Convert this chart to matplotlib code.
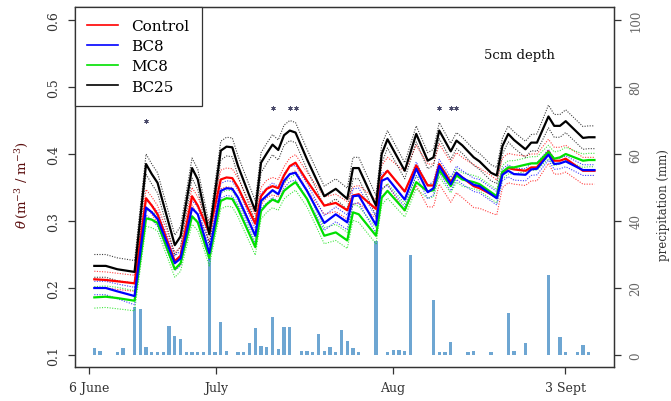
import matplotlib
matplotlib.use("Agg")
from matplotlib import pyplot as plt

# days since 6 June (measurement vertices)
days = [0, 2, 4, 7, 9, 10, 11, 14, 15, 17,
        18, 20, 22, 23, 24, 25, 28, 29, 30, 31,
        32, 33, 34, 35, 37, 40, 42, 44, 45, 46,
        49, 50, 51, 54, 56, 58, 59, 60, 62, 63,
        64, 66, 67, 69, 70, 71, 72, 73, 75, 76,
        77, 79, 80, 81, 82, 85, 86, 87]

control = [0.213, 0.212, 0.210, 0.207, 0.334, 0.323, 0.310, 0.240, 0.248, 0.337,
           0.323, 0.283, 0.362, 0.365, 0.364, 0.350, 0.296, 0.337, 0.348, 0.352,
           0.349, 0.368, 0.382, 0.387, 0.360, 0.323, 0.327, 0.316, 0.338, 0.340,
           0.318, 0.365, 0.375, 0.344, 0.383, 0.353, 0.353, 0.385, 0.358, 0.372,
           0.365, 0.352, 0.349, 0.340, 0.335, 0.372, 0.379, 0.377, 0.375, 0.380,
           0.380, 0.404, 0.390, 0.390, 0.393, 0.375, 0.375, 0.375]
bc8 = [0.200, 0.200, 0.195, 0.188, 0.320, 0.313, 0.303, 0.237, 0.244, 0.319,
       0.310, 0.252, 0.345, 0.349, 0.348, 0.335, 0.278, 0.330, 0.338, 0.346,
       0.340, 0.360, 0.370, 0.372, 0.345, 0.297, 0.310, 0.298, 0.337, 0.338,
       0.294, 0.360, 0.364, 0.332, 0.378, 0.343, 0.349, 0.382, 0.355, 0.372,
       0.365, 0.354, 0.352, 0.340, 0.334, 0.369, 0.375, 0.370, 0.369, 0.377,
       0.378, 0.399, 0.385, 0.386, 0.389, 0.376, 0.376, 0.376]
mc8 = [0.186, 0.187, 0.185, 0.181, 0.304, 0.302, 0.297, 0.228, 0.237, 0.307,
       0.298, 0.245, 0.330, 0.334, 0.333, 0.318, 0.261, 0.315, 0.325, 0.332,
       0.328, 0.345, 0.352, 0.358, 0.333, 0.278, 0.283, 0.271, 0.313, 0.310,
       0.278, 0.335, 0.345, 0.316, 0.358, 0.344, 0.346, 0.376, 0.352, 0.368,
       0.362, 0.358, 0.355, 0.343, 0.337, 0.373, 0.380, 0.380, 0.384, 0.386,
       0.386, 0.403, 0.393, 0.395, 0.400, 0.390, 0.391, 0.391]
bc25 = [0.233, 0.233, 0.228, 0.224, 0.385, 0.370, 0.357, 0.264, 0.277, 0.379,
        0.362, 0.280, 0.405, 0.411, 0.410, 0.382, 0.315, 0.387, 0.401, 0.414,
        0.406, 0.428, 0.435, 0.432, 0.392, 0.337, 0.348, 0.333, 0.379, 0.379,
        0.323, 0.400, 0.422, 0.375, 0.430, 0.390, 0.395, 0.435, 0.404, 0.420,
        0.413, 0.395, 0.389, 0.372, 0.368, 0.412, 0.430, 0.421, 0.407, 0.417,
        0.417, 0.456, 0.442, 0.442, 0.449, 0.424, 0.425, 0.425]

# half width of the dotted error band
control_se = [0.012, 0.012, 0.012, 0.012, 0.013, 0.013, 0.013, 0.013, 0.013, 0.013,
              0.013, 0.013, 0.014, 0.014, 0.014, 0.014, 0.013, 0.013, 0.013, 0.013,
              0.013, 0.013, 0.012, 0.012, 0.013, 0.013, 0.013, 0.013, 0.013, 0.013,
              0.014, 0.018, 0.020, 0.030, 0.030, 0.032, 0.032, 0.030, 0.030, 0.030,
              0.030, 0.032, 0.030, 0.028, 0.026, 0.022, 0.022, 0.022, 0.022, 0.020,
              0.020, 0.018, 0.020, 0.020, 0.020, 0.020, 0.020, 0.020]
bc8_se = [0.010, 0.010, 0.011, 0.013, 0.011, 0.011, 0.011, 0.011, 0.011, 0.011,
          0.011, 0.011, 0.011, 0.011, 0.011, 0.011, 0.011, 0.011, 0.011, 0.011,
          0.011, 0.011, 0.011, 0.011, 0.011, 0.011, 0.011, 0.011, 0.011, 0.011,
          0.012, 0.011, 0.011, 0.011, 0.010, 0.010, 0.010, 0.010, 0.010, 0.010,
          0.010, 0.010, 0.010, 0.010, 0.010, 0.009, 0.009, 0.009, 0.009, 0.009,
          0.009, 0.008, 0.008, 0.008, 0.008, 0.008, 0.008, 0.008]
mc8_se = [0.016, 0.016, 0.016, 0.015, 0.012, 0.012, 0.012, 0.012, 0.012, 0.012,
          0.012, 0.012, 0.012, 0.012, 0.012, 0.012, 0.012, 0.012, 0.012, 0.012,
          0.012, 0.012, 0.012, 0.012, 0.012, 0.012, 0.012, 0.012, 0.012, 0.012,
          0.012, 0.011, 0.011, 0.010, 0.010, 0.010, 0.010, 0.010, 0.010, 0.010,
          0.010, 0.010, 0.010, 0.010, 0.010, 0.010, 0.010, 0.010, 0.010, 0.010,
          0.010, 0.010, 0.010, 0.010, 0.010, 0.010, 0.010, 0.010]
bc25_se = [0.017, 0.017, 0.017, 0.017, 0.015, 0.015, 0.015, 0.015, 0.015, 0.015,
           0.015, 0.015, 0.014, 0.014, 0.014, 0.015, 0.015, 0.015, 0.015, 0.015,
           0.015, 0.015, 0.015, 0.015, 0.015, 0.015, 0.015, 0.016, 0.016, 0.016,
           0.015, 0.014, 0.013, 0.012, 0.012, 0.012, 0.012, 0.012, 0.012, 0.012,
           0.012, 0.012, 0.012, 0.012, 0.012, 0.012, 0.012, 0.012, 0.012, 0.012,
           0.013, 0.017, 0.017, 0.017, 0.017, 0.017, 0.017, 0.017]

# daily precipitation (mm)
rain_days = [0, 1, 4, 5, 7, 8, 9, 10, 11, 12, 13, 14, 15, 16, 17, 18, 19, 20, 21, 22,
             23, 25, 26, 27, 28, 29, 30, 31, 32, 33, 34, 36, 37, 38, 39, 40, 41, 42,
             43, 44, 45, 46, 49, 51, 52, 53, 54, 55, 59, 60, 61, 62, 65, 66, 69, 72,
             73, 75, 79, 81, 82, 84, 85, 86]
rain = [2.0, 1.2, 0.8, 2.0, 14.2, 13.6, 2.3, 0.8, 0.8, 1.0, 8.7, 5.7, 4.9, 1.0, 1.0, 0.8,
        1.0, 29.0, 1.0, 9.8, 1.3, 0.8, 1.0, 3.7, 8.0, 2.8, 2.4, 11.2, 1.7, 8.2, 8.2, 1.3,
        1.3, 0.8, 6.3, 1.3, 2.4, 0.8, 7.3, 4.3, 2.0, 0.8, 34.0, 0.8, 1.5, 1.5, 1.3, 29.8,
        16.4, 0.8, 0.8, 3.8, 0.8, 1.3, 0.8, 12.6, 1.3, 3.7, 24.0, 5.5, 0.8, 1.0, 3.0, 0.8]

star_days = [9, 31, 34, 35, 60, 62, 63]
star_theta = [0.450, 0.469, 0.469, 0.469, 0.469, 0.469, 0.469]

tick_days = [-0.9, 21.2, 51.9, 81.9]
tick_labels = ["6 June", "July", "Aug", "3 Sept"]

series = [("Control", control, control_se, "#ff0000"),
          ("BC8", bc8, bc8_se, "#0000ff"),
          ("MC8", mc8, mc8_se, "#00e000"),
          ("BC25", bc25, bc25_se, "#000000")]

serif = "DejaVu Serif"
plt.rcParams["font.family"] = serif
plt.rcParams["mathtext.fontset"] = "dejavuserif"

fig = plt.figure(figsize=(6.71, 4.02), dpi=100)
ax = fig.add_axes([75 / 671, 1 - 368 / 402, (614 - 75) / 671, (368 - 8) / 402])
ax2 = ax.twinx()

# precipitation bars (behind the lines)
ax2.bar(rain_days, rain, width=0.55, color="#6ea6d2", zorder=1)
ax2.set_ylim(-3.6, 103.9)
ax2.set_yticks([0, 20, 40, 60, 80, 100])
ax.set_zorder(ax2.get_zorder() + 1)
ax.patch.set_visible(False)

order = [0, 2, 1, 3]
for k in order:
    name, m, se, col = series[k]
    up = [a + b for a, b in zip(m, se)]
    lo = [a - b for a, b in zip(m, se)]
    ax.plot(days, up, color=col, lw=0.8, ls=(0, (1, 1.3)), alpha=0.75, zorder=3)
    ax.plot(days, lo, color=col, lw=0.8, ls=(0, (1, 1.3)), alpha=0.75, zorder=3)
for k in order:
    name, m, se, col = series[k]
    ax.plot(days, m, color=col, lw=1.6, zorder=4)

ax.plot(star_days, star_theta, ls="none", marker=(6, 2, 0), ms=3.2, mew=0.6,
        color="#4a4a6a", zorder=5)

ax.set_xlim(-3.36, 90.4)
ax.set_ylim(0.0821, 0.6194)
ax.set_xticks(tick_days)
ax.set_xticklabels(tick_labels)
ax.set_yticks([0.1, 0.2, 0.3, 0.4, 0.5, 0.6])
ax.set_yticklabels(["0.1", "0.2", "0.3", "0.4", "0.5", "0.6"])

for a in (ax, ax2):
    for s in a.spines.values():
        s.set_color("#333333")
        s.set_linewidth(0.9)
ax.tick_params(axis="both", direction="out", length=5, width=0.9, color="#333333",
               labelsize=9, labelcolor="#333333")
ax.tick_params(axis="x", pad=5)
ax.tick_params(axis="y", pad=6)
ax2.tick_params(axis="y", direction="out", length=5, width=0.9, color="#333333",
                labelsize=8.5, labelcolor="#666666", pad=6)
for lab in ax.get_yticklabels():
    lab.set_rotation(90)
    lab.set_va("center")
for lab in ax2.get_yticklabels():
    lab.set_rotation(90)
    lab.set_va("center")

handles = [plt.Line2D([], [], color=s[3], lw=1.2) for s in series]
leg = ax.legend(handles, [s[0] for s in series], loc="upper left",
                bbox_to_anchor=(0, 1), borderaxespad=0, fancybox=False,
                edgecolor="#333333", framealpha=1, fontsize=11,
                handlelength=2.0, handletextpad=0.9, labelspacing=0.4,
                borderpad=0.8)
leg.get_frame().set_linewidth(0.9)
leg.set_zorder(10)

ax.text(74, 0.549, "5cm depth", ha="center", va="center", fontsize=9.5, color="#111111")

fig.text(22 / 671, 1 - 185 / 402, r"$\theta\,(\mathrm{m}^{-3}\ /\ \mathrm{m}^{-3})$",
         rotation=90, ha="center", va="center", fontsize=9.5, color="#5c1010")
fig.text(663 / 671, 1 - 205 / 402, "precipitation (mm)", rotation=90,
         ha="center", va="center", fontsize=8.5, color="#333333")

fig.savefig("out.png", dpi=100)
